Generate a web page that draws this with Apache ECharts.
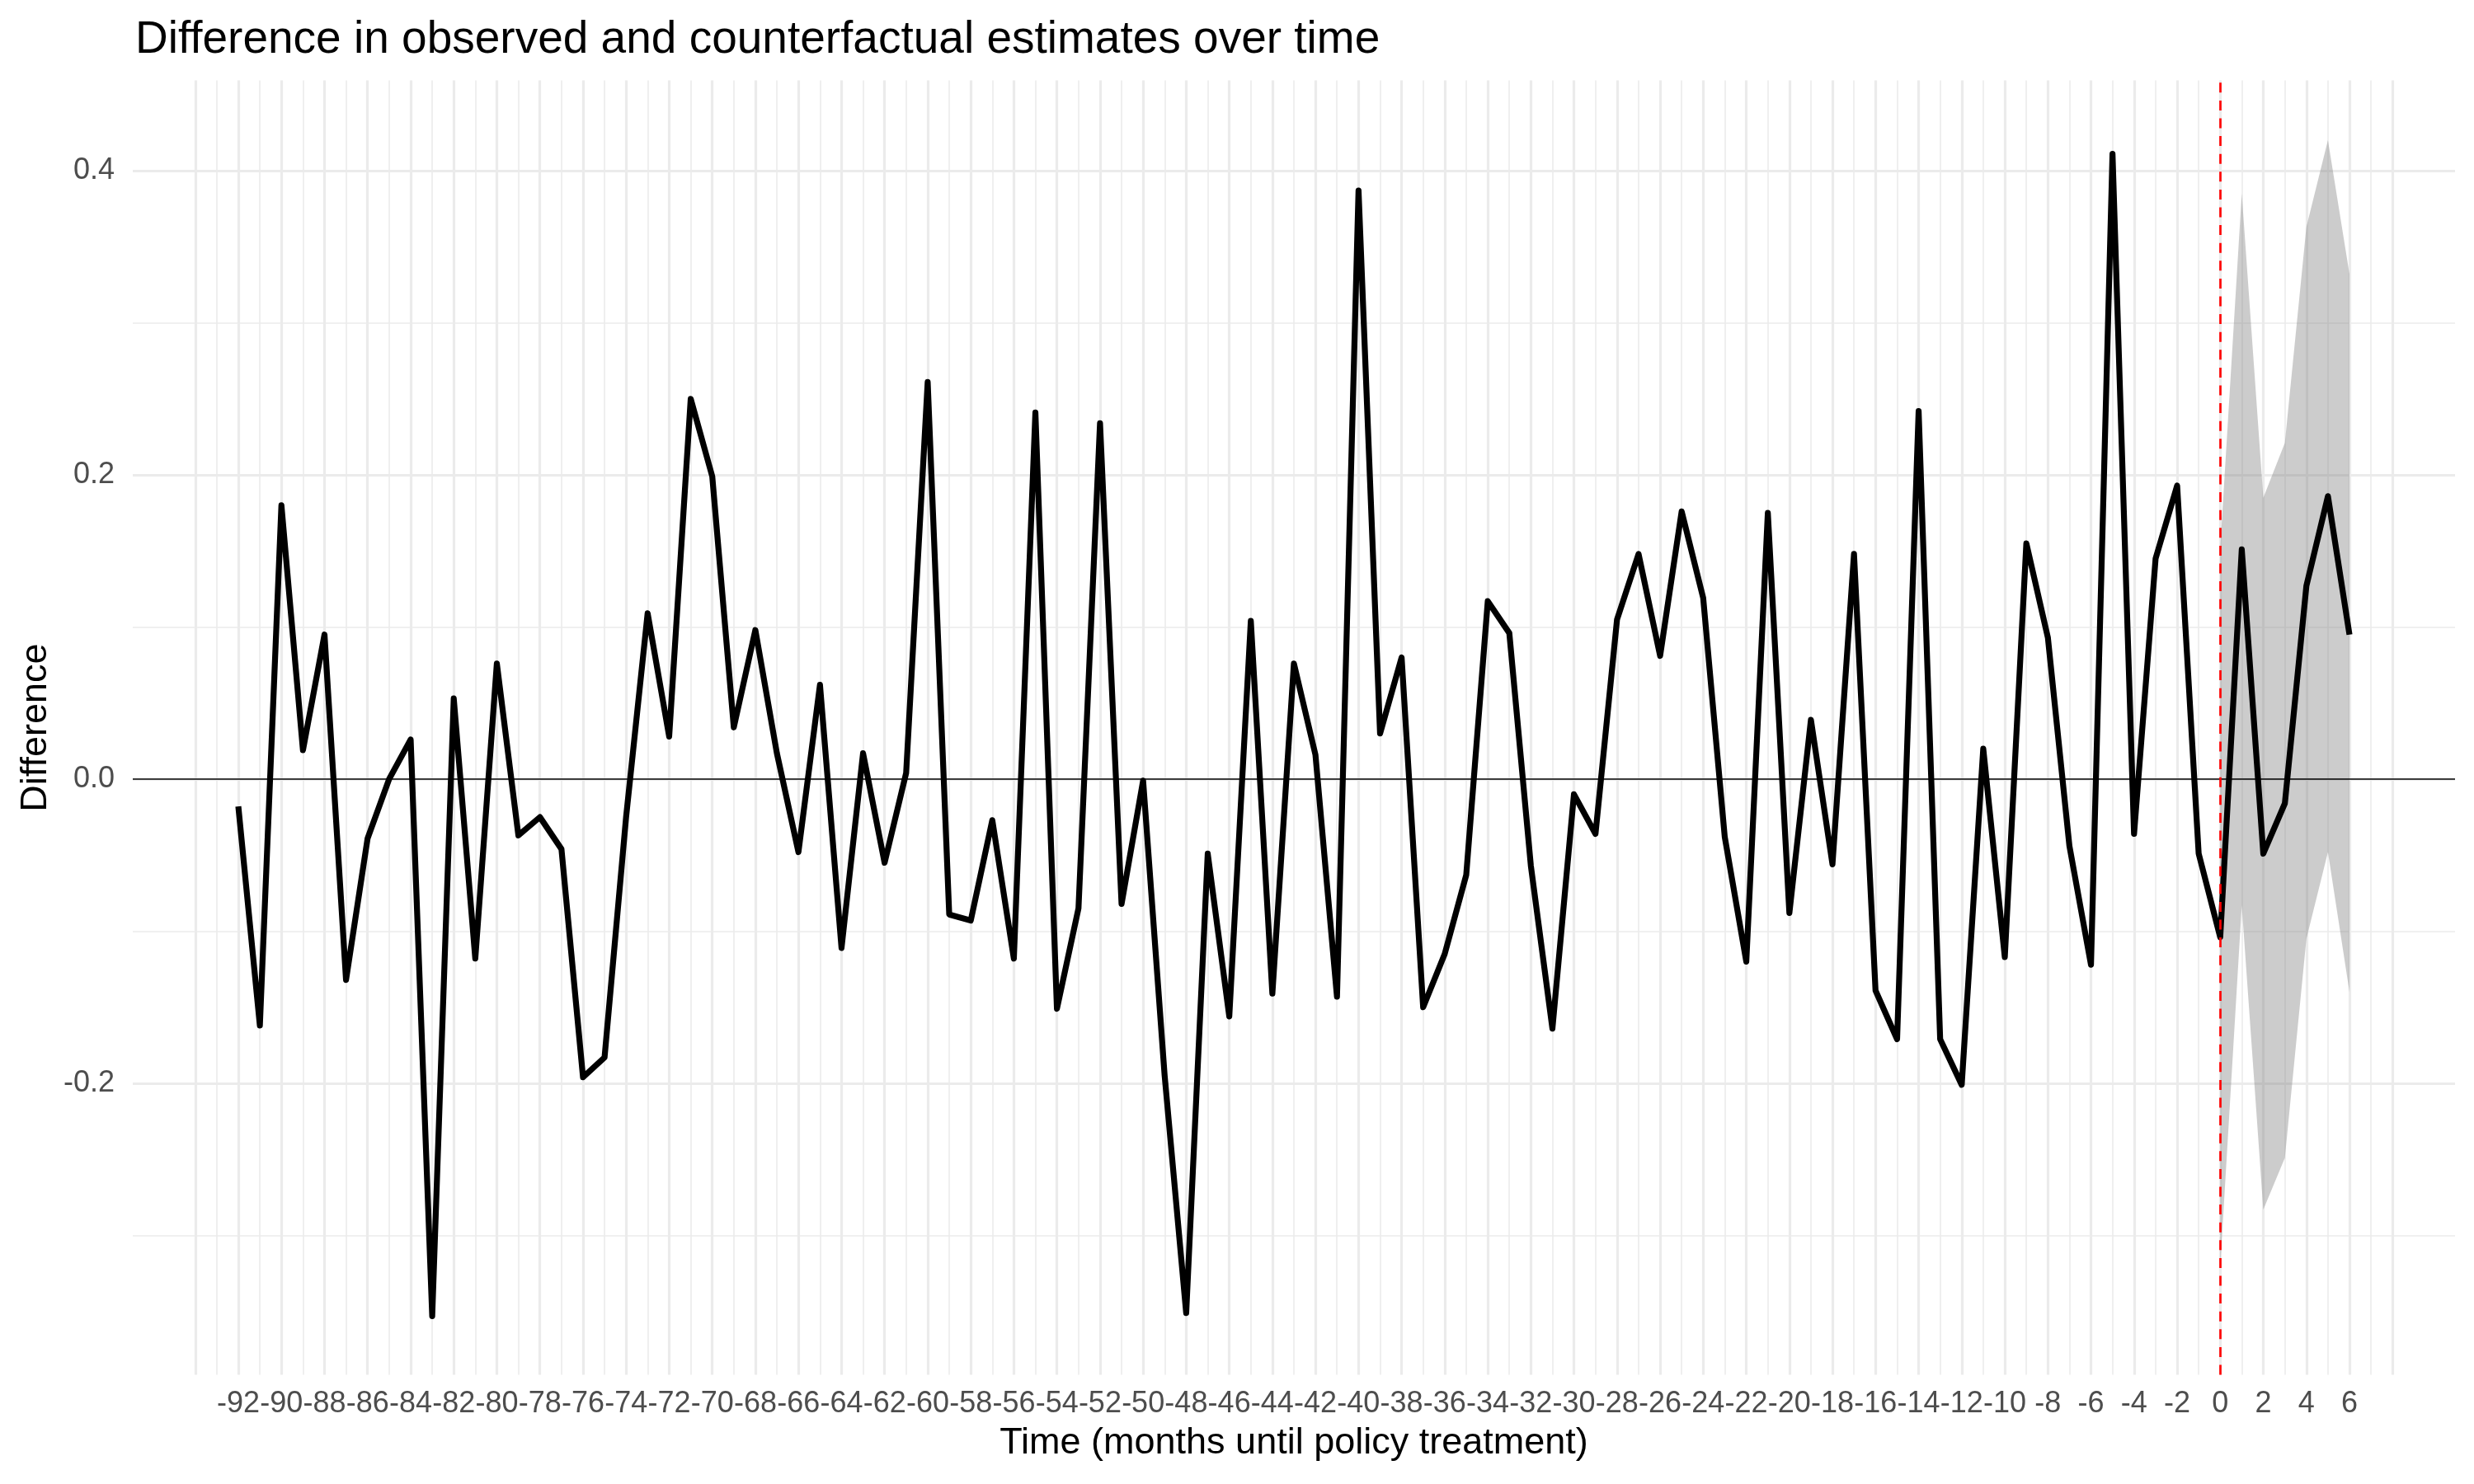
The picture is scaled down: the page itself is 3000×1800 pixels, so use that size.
<!DOCTYPE html>
<html>
<head>
<meta charset="utf-8">
<script src="https://cdn.jsdelivr.net/npm/echarts@6/dist/echarts.min.js"></script>
<style>
html,body{margin:0;padding:0;background:#fff;}
#chart{width:3000px;height:1800px;}
</style>
</head>
<body>
<div id="chart"></div>
<script>
// ---- data ----
const months = [];
for (let m = -92; m <= 6; m++) months.push(m);
const diffValues = [
  -0.018, -0.162, 0.180, 0.019, 0.095, -0.132, -0.039, 0.000, 0.026, -0.353,
  0.053, -0.118, 0.076, -0.037, -0.025, -0.046, -0.196, -0.183, -0.025, 0.109,
  0.028, 0.250, 0.199, 0.034, 0.098, 0.017, -0.048, 0.062, -0.111, 0.017,
  -0.055, 0.004, 0.261, -0.089, -0.093, -0.027, -0.118, 0.241, -0.151, -0.085,
  0.234, -0.082, -0.001, -0.195, -0.351, -0.049, -0.156, 0.104, -0.141, 0.076,
  0.016, -0.143, 0.387, 0.030, 0.080, -0.150, -0.115, -0.063, 0.117, 0.096,
  -0.057, -0.164, -0.010, -0.036, 0.105, 0.148, 0.081, 0.176, 0.119, -0.038,
  -0.120, 0.175, -0.088, 0.039, -0.056, 0.148, -0.139, -0.171, 0.242, -0.171,
  -0.201, 0.020, -0.117, 0.155, 0.093, -0.044, -0.122, 0.411, -0.036, 0.145,
  0.193, -0.049, -0.104, 0.151, -0.049, -0.016, 0.127, 0.186, 0.095
];
const ribbonMonths = [0, 1, 2, 3, 4, 5, 6];
const ribbonLower = [-0.320, -0.083, -0.283, -0.249, -0.105, -0.048, -0.140];
const ribbonUpper = [0.152, 0.385, 0.185, 0.221, 0.363, 0.420, 0.332];
const xTickLabels = [];
for (let m = -92; m <= 6; m += 2) xTickLabels.push(m);
const yTickLabels = [-0.2, 0.0, 0.2, 0.4];
const xGridValues = [];
for (let m = -94; m <= 8; m++) xGridValues.push(m);
const yGridValues = [-0.3, -0.2, -0.1, 0.0, 0.1, 0.2, 0.3, 0.4];
const policyMonth = 0;
const zeroLevel = 0;

// ---- chart ----
const FONT = 'Liberation Sans';
const chart = echarts.init(document.getElementById('chart'), null, {renderer: 'canvas'});

const lineData = months.map((m, i) => [m, diffValues[i]]);
const ribbonData = ribbonMonths.map((m, i) => [m, ribbonLower[i], ribbonUpper[i]]);

const gridMarks = [];
xGridValues.forEach(v => {
  const major = (v % 2 === 0);
  gridMarks.push({xAxis: v, lineStyle: {color: '#EBEBEB', width: major ? 3.2 : 1.6, type: 'solid'}});
});
yGridValues.forEach(v => {
  const major = Math.abs(Math.round(v * 10)) % 2 === 0;
  gridMarks.push({yAxis: v, lineStyle: {color: '#EBEBEB', width: major ? 3.2 : 1.6, type: 'solid'}});
});

function renderRibbon(params, api) {
  if (params.dataIndex !== 0) return null;
  const pts = [];
  for (let i = 0; i < ribbonMonths.length; i++) {
    pts.push(api.coord([ribbonMonths[i], ribbonUpper[i]]));
  }
  for (let i = ribbonMonths.length - 1; i >= 0; i--) {
    pts.push(api.coord([ribbonMonths[i], ribbonLower[i]]));
  }
  return {
    type: 'polygon',
    shape: {points: pts},
    style: {fill: 'rgba(127,127,127,0.4)', stroke: null}
  };
}

const option = {
  animation: false,
  backgroundColor: '#ffffff',
  title: {
    text: 'Difference in observed and counterfactual estimates over time',
    left: 159,
    top: 16,
    textStyle: {fontFamily: FONT, fontSize: 55, fontWeight: 'normal', color: '#000000'}
  },
  grid: {left: 161, right: 23, top: 97.6, bottom: 132.5, containLabel: false},
  xAxis: {
    type: 'value',
    min: -96.9,
    max: 10.9,
    name: 'Time (months until policy treatment)',
    nameLocation: 'middle',
    nameGap: 61,
    nameTextStyle: {fontFamily: FONT, fontSize: 45, color: '#000000'},
    axisLine: {show: false},
    axisTick: {show: false},
    splitLine: {show: false},
    axisLabel: {
      customValues: xTickLabels,
      fontFamily: FONT, fontSize: 36, color: '#4D4D4D', margin: 18,
      formatter: v => String(v)
    }
  },
  yAxis: {
    type: 'value',
    min: -0.3916,
    max: 0.4593,
    name: 'Difference',
    nameLocation: 'middle',
    nameRotate: 90,
    nameGap: 93,
    nameTextStyle: {fontFamily: FONT, fontSize: 45, color: '#000000'},
    axisLine: {show: false},
    axisTick: {show: false},
    splitLine: {show: false},
    axisLabel: {
      customValues: yTickLabels,
      fontFamily: FONT, fontSize: 36, color: '#4D4D4D', margin: 22,
      formatter: v => Number(v).toFixed(1)
    }
  },
  series: [
    {
      name: 'grid', type: 'line', data: [], z: 1, silent: true,
      markLine: {z: 1, silent: true, symbol: 'none', label: {show: false}, animation: false, data: gridMarks}
    },
    {
      name: 'ribbon', type: 'custom', data: ribbonData, z: 2, silent: true,
      encode: {x: 0, y: [1, 2]},
      renderItem: renderRibbon
    },
    {
      name: 'zero', type: 'line', data: [], z: 3, silent: true,
      markLine: {z: 3, silent: true, symbol: 'none', label: {show: false}, animation: false,
        data: [{yAxis: zeroLevel, lineStyle: {color: '#000000', width: 1.6, type: 'solid'}}]}
    },
    {
      name: 'difference', type: 'line', data: lineData, z: 4,
      symbol: 'none', showSymbol: false,
      lineStyle: {color: '#000000', width: 7.2, join: 'round', cap: 'butt'}
    },
    {
      name: 'policy', type: 'line', data: [], z: 6, silent: true,
      markLine: {z: 6, silent: true, symbol: 'none', label: {show: false}, animation: false,
        data: [{xAxis: policyMonth, lineStyle: {color: '#FF0000', width: 2.7, type: [12, 9.6]}}]}
    }
  ]
};
chart.setOption(option);
</script>
</body>
</html>
